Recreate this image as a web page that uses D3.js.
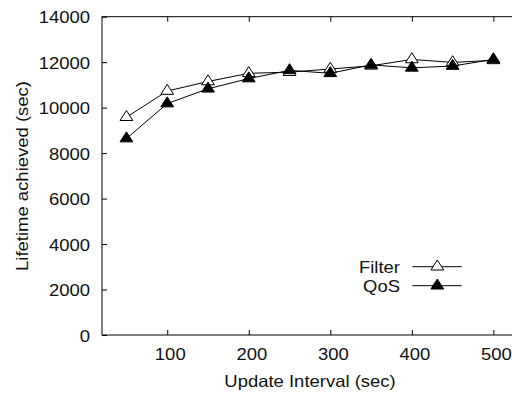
<!DOCTYPE html>
<html>
<head>
<meta charset="utf-8">
<script src="https://cdn.jsdelivr.net/npm/d3@7"></script>
<style>
  body { margin: 0; background: #fff; }
  svg { display: block; }
  text { font-family: "Liberation Sans", Arial, Helvetica, sans-serif; fill: #111; }
</style>
</head>
<body>
<svg id="canvas" width="512" height="395"></svg>
<script>
// values
const intervals = [50, 100, 150, 200, 250, 300, 350, 400, 450, 500];
const filterLifetime = [9580, 10730, 11150, 11510, 11560, 11700, 11840, 12120, 11990, 12080];
const qosLifetime = [8640, 10180, 10830, 11280, 11640, 11510, 11880, 11750, 11830, 12120];
const xTicks = [100, 200, 300, 400, 500];
const yTicks = [0, 2000, 4000, 6000, 8000, 10000, 12000, 14000];
const seriesNames = ["Filter", "QoS"];

const settings = {
  left: 102,
  top: 16.7,
  bottom: 335,
  right: 526,
  fontSize: 16.5,
  stretch: 1.12,
};

// gnuplot-ish triangle, point sits on the centroid
const triangle = "M0,-6.7L6.4,3.3L-6.4,3.3Z";

function graph() {
  const svg = d3.select("#canvas");

  const x = d3.scaleLinear()
    .domain([20, 540])
    .range([settings.left, settings.right]);

  const y = d3.scaleLinear()
    .domain([0, 14000])
    .range([settings.bottom, settings.top]);

  const stretch = `scale(${settings.stretch},1)`;

  // frame
  svg.append("rect")
    .attr("x", settings.left)
    .attr("y", settings.top)
    .attr("width", settings.right - settings.left)
    .attr("height", settings.bottom - settings.top)
    .attr("fill", "none")
    .attr("stroke", "#000")
    .attr("stroke-width", 1);

  // bottom axis, ticks pointing inward
  const xAxis = svg.append("g")
    .attr("transform", `translate(0,${settings.bottom})`)
    .call(d3.axisBottom(x).tickValues(xTicks).tickSize(-5).tickSizeOuter(0).tickFormat(d3.format("d")));
  xAxis.select(".domain").remove();
  xAxis.selectAll("text")
    .attr("y", 25)
    .attr("dy", null)
    .attr("x", 2.5 / settings.stretch)
    .attr("transform", stretch)
    .style("font-size", settings.fontSize + "px");

  // mirrored ticks on top
  const topAxis = svg.append("g")
    .attr("transform", `translate(0,${settings.top})`)
    .call(d3.axisTop(x).tickValues(xTicks).tickSize(-5).tickSizeOuter(0).tickFormat(""));
  topAxis.select(".domain").remove();

  const yAxis = svg.append("g")
    .attr("transform", `translate(${settings.left},0)`)
    .call(d3.axisLeft(y).tickValues(yTicks).tickSize(-5).tickSizeOuter(0).tickFormat(d3.format("d")));
  yAxis.select(".domain").remove();
  yAxis.selectAll("text")
    .attr("x", -12 / settings.stretch)
    .attr("dy", "0.38em")
    .attr("transform", stretch)
    .style("font-size", settings.fontSize + "px");

  svg.selectAll(".tick line").attr("stroke", "#000");

  // axis titles
  svg.append("text")
    .attr("transform", `translate(310,387.3) ${stretch}`)
    .attr("text-anchor", "middle")
    .style("font-size", settings.fontSize + "px")
    .text("Update Interval (sec)");

  svg.append("text")
    .attr("transform", `translate(27.5,176) rotate(-90) ${stretch}`)
    .attr("text-anchor", "middle")
    .style("font-size", settings.fontSize + "px")
    .text("Lifetime achieved (sec)");

  const series = [
    { name: seriesNames[0], values: filterLifetime, fill: "#fff" },
    { name: seriesNames[1], values: qosLifetime, fill: "#000" },
  ];

  const line = d3.line()
    .x(d => x(d[0]))
    .y(d => y(d[1]));

  const plots = svg.append("g").attr("class", "series");
  series.forEach(s => {
    const pts = intervals.map((v, i) => [v, s.values[i]]);
    const g = plots.append("g");
    g.append("path")
      .attr("d", line(pts))
      .attr("fill", "none")
      .attr("stroke", "#000")
      .attr("stroke-width", 1);
    g.selectAll("path.mark")
      .data(pts)
      .join("path")
      .attr("class", "mark")
      .attr("d", triangle)
      .attr("transform", d => `translate(${x(d[0])},${y(d[1])})`)
      .attr("fill", s.fill)
      .attr("stroke", "#000")
      .attr("stroke-width", 1);
  });

  // legend
  const legend = svg.append("g").attr("class", "legend");
  series.forEach((s, i) => {
    const ly = 266.7 + i * 19;
    legend.append("text")
      .attr("transform", `translate(400,${ly}) ${stretch}`)
      .attr("text-anchor", "end")
      .attr("dy", "0.36em")
      .style("font-size", settings.fontSize + "px")
      .text(s.name);
    legend.append("line")
      .attr("x1", 412.3)
      .attr("x2", 461.7)
      .attr("y1", ly)
      .attr("y2", ly)
      .attr("stroke", "#000")
      .attr("stroke-width", 1);
    legend.append("path")
      .attr("d", triangle)
      .attr("transform", `translate(437.3,${ly})`)
      .attr("fill", s.fill)
      .attr("stroke", "#000")
      .attr("stroke-width", 1);
  });
}

window.addEventListener("DOMContentLoaded", () => {
  graph();
});
</script>
</body>
</html>
